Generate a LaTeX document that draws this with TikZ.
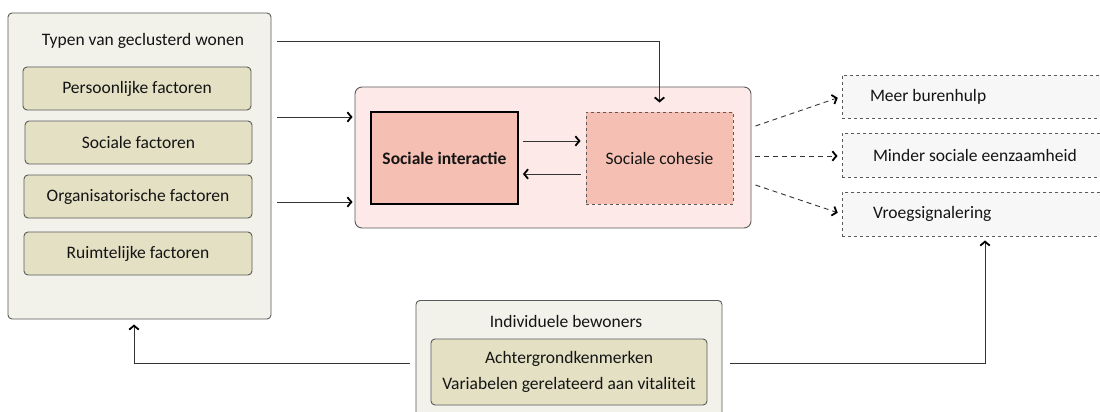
\documentclass[tikz,border=0pt]{standalone}
\usepackage{fontspec}
\setmainfont{Carlito}
\usetikzlibrary{arrows.meta}
\definecolor{outerfill}{HTML}{F2F1EA}
\definecolor{innerfill}{HTML}{E3E0C4}
\definecolor{pinkfill}{HTML}{FDE9E7}
\definecolor{salmon}{HTML}{F5C0B3}
\definecolor{greyfill}{HTML}{F7F7F7}
\definecolor{edge}{HTML}{5A5A5A}
\definecolor{linec}{HTML}{333333}
\definecolor{textc}{HTML}{141414}
\tikzset{
  every node/.style={font=\fontsize{17.5}{26}\selectfont, inner sep=0pt, text=textc},
  groupbox/.style={draw=edge, line width=0.9pt, fill=outerfill, rounded corners=4pt},
  factorbox/.style={draw=edge, line width=0.9pt, fill=innerfill, rounded corners=4pt, minimum width=228pt, minimum height=43pt},
  corebox/.style={draw=edge, line width=0.9pt, fill=pinkfill, rounded corners=7pt},
  interbox/.style={draw=black, line width=1.8pt, fill=salmon, minimum width=147pt, minimum height=92pt, font=\fontsize{17.5}{26}\selectfont\bfseries},
  cohbox/.style={draw=edge, dashed, line width=0.9pt, fill=salmon, minimum width=147pt, minimum height=92pt},
  outbox/.style={draw=edge, dashed, line width=0.9pt, fill=greyfill, minimum width=266pt, minimum height=43pt, text width=226pt, align=flush left},
  conn/.style={draw=linec, line width=0.9pt, -{Straight Barb[length=4pt, width=9.5pt, line width=1.8pt, color=black]}},
  dconn/.style={conn, dash pattern=on 5pt off 4pt},
}
\begin{document}
\begin{tikzpicture}[x=1pt, y=-1pt]
\useasboundingbox (0,0) rectangle (1100,412);
\clip (0,0) rectangle (1100,412);
\fill[white] (0,0) rectangle (1100,412);

% left group
\node[groupbox, minimum width=263pt, minimum height=306pt] (types) at (139.5,166) {};
\node (typestitle) at (143,41) {Typen van geclusterd wonen};
\node[factorbox] (pers) at (137,88.5) {Persoonlijke factoren};
\node[factorbox, minimum width=227pt] (soc) at (138.5,142.5) {Sociale factoren};
\node[factorbox] (org) at (138,196.5) {Organisatorische factoren};
\node[factorbox] (ruim) at (138,253.5) {Ruimtelijke factoren};

% core
\node[corebox, minimum width=396pt, minimum height=141pt] (core) at (553,157.5) {};
\node[interbox] (inter) at (444.5,158) {Sociale interactie};
\node[cohbox] (coh) at (659.5,158) {Sociale cohesie};

% outcomes (they run past the right edge of the picture)
\node[outbox] (hulp) at (975,96.5) {\hspace*{8pt}Meer burenhulp};
\node[outbox, minimum height=44pt] (eenz) at (975,155) {\hspace*{11pt}Minder sociale eenzaamheid};
\node[outbox, minimum height=44pt] (vroeg) at (975,214) {\hspace*{11pt}Vroegsignalering};

% individual residents
\node[groupbox, minimum width=306pt, minimum height=130pt, anchor=north] (indiv) at (569,300) {};
\node (indivtitle) at (566,321) {Individuele bewoners};
\node[factorbox, minimum width=276pt, minimum height=66pt, align=center] (kenm) at (569,372) {Achtergrondkenmerken\\Variabelen gerelateerd aan vitaliteit};

% connectors
\coordinate (topstart) at ([xshift=6pt]types.east |- typestitle);
\draw[conn, shorten >=9pt] (topstart) -| (coh.north);
\draw[conn, shorten >=2pt] ([xshift=6pt]types.east |- 0,117) -- (core.west |- 0,117);
\draw[conn, shorten >=2pt] ([xshift=6pt]types.east |- 0,202) -- (core.west |- 0,202);
\draw[conn, shorten <=4pt, shorten >=5pt] (inter.east |- 0,141) -- (coh.west |- 0,141);
\draw[conn, shorten <=5pt, shorten >=4pt] (coh.west |- 0,174) -- (inter.east |- 0,174);
\draw[dconn, shorten >=4pt] ([xshift=4pt]core.east |- 0,126) -- (hulp.west);
\draw[dconn, shorten >=4pt] ([xshift=4pt]core.east |- 0,156) -- (eenz.west |- 0,156);
\draw[dconn, shorten >=4pt] ([xshift=4pt]core.east |- 0,185) -- (vroeg.west);
\draw[conn, shorten >=5pt] ([xshift=-6pt]indiv.west |- 0,363) -| (types.south -| 134,0);
\draw[conn, shorten >=4pt] ([xshift=8pt]indiv.east |- 0,363) -| (vroeg.south -| 985,0);
\end{tikzpicture}
\end{document}
